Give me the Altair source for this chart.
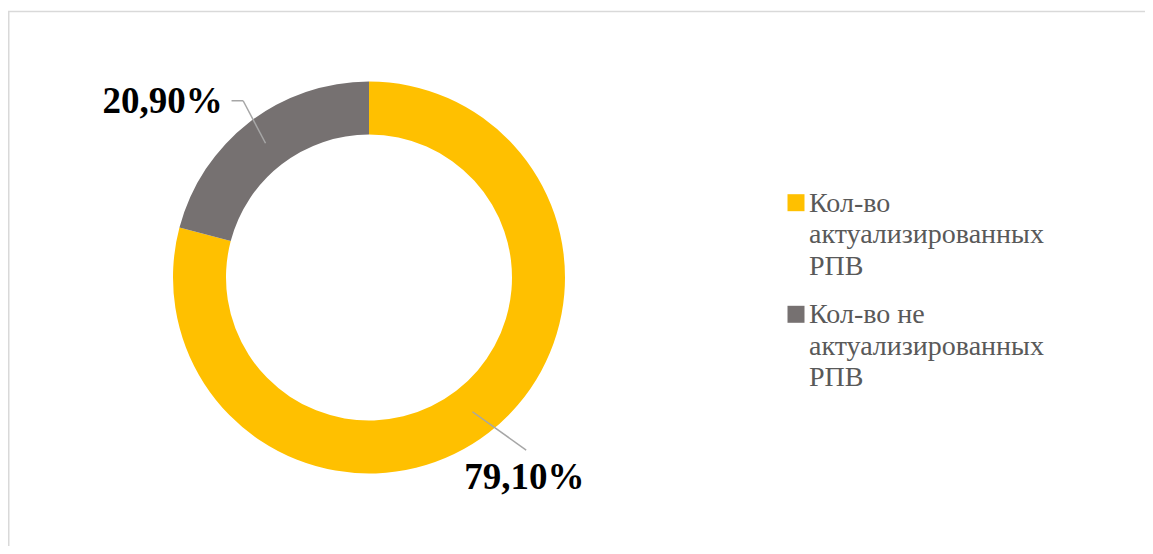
import altair as alt
import pandas as pd

# ---- data ----
categories = ["Кол-во актуализированных РПВ", "Кол-во не актуализированных РПВ"]
shares = [79.1, 20.9]
pct_labels = ["79,10%", "20,90%"]
legend_labels = ["Кол-во\nактуализированных\nРПВ", "Кол-во не\nактуализированных\nРПВ"]
colors = ["#FFC000", "#767171"]

df = pd.DataFrame({
    "idx": list(range(len(categories))),
    "category": categories,
    "share": shares,
    "label": pct_labels,
    "legend": legend_labels,
})

# ---- layout constants ----
W, H = 1137, 538
CX, CY = 361, 269.5
R_OUT, R_IN = 196, 143
R_MID = (R_OUT + R_IN) / 2

base = alt.Chart(df)
color = alt.Color("category:N", scale=alt.Scale(domain=categories, range=colors), legend=None)

donut = base.mark_arc(outerRadius=R_OUT, innerRadius=R_IN, stroke=None).encode(
    theta=alt.Theta("share:Q", stack=True),
    order=alt.Order("idx:Q"),
    color=color,
    x=alt.value(CX),
    y=alt.value(CY),
)

geo = base.transform_joinaggregate(total="sum(share)").transform_window(
    cum="sum(share)", sort=[alt.SortField("idx")], frame=[None, 0]
).transform_calculate(
    mid="(datum.cum - datum.share/2)/datum.total*2*PI",
).transform_calculate(
    x0=f"{CX} + {R_MID}*sin(datum.mid)",
    y0=f"{CY} - {R_MID}*cos(datum.mid)",
).transform_calculate(
    x1="datum.idx == 1 ? datum.x0 - 22.4 : datum.x0 + 53.7",
    y1="datum.idx == 1 ? datum.y0 - 42.5 : datum.y0 + 38.3",
    lx="datum.idx == 1 ? datum.x0 - 103 : datum.x0 + 52",
    ly="datum.idx == 1 ? datum.y0 - 30 : datum.y0 + 77",
).transform_calculate(
    x2="datum.idx == 1 ? datum.x1 - 11.6 : datum.x1",
    y2="datum.y1",
)

def px(f):
    return alt.X(f"{f}:Q", scale=None, axis=None)

def py(f):
    return alt.Y(f"{f}:Q", scale=None, axis=None)

leader1 = geo.mark_rule(color="#A6A6A6", strokeWidth=1.5).encode(
    x=px("x0"), y=py("y0"), x2="x1:Q", y2="y1:Q"
)
leader2 = geo.mark_rule(color="#A6A6A6", strokeWidth=1.5).encode(
    x=px("x1"), y=py("y1"), x2="x2:Q", y2="y2:Q"
)
pct = geo.mark_text(
    font="Liberation Serif", fontSize=37, fontWeight="bold", color="black",
    align="center", baseline="alphabetic",
).encode(x=px("lx"), y=py("ly"), text="label:N")

# ---- legend ----
LEG_SQ_X, LEG_SQ_Y, LEG_TX_X, LEG_TX_Y, LEG_GAP = 788, 194.7, 801, 203.7, 111.6
leg = base.transform_calculate(
    sy=f"{LEG_SQ_Y} + datum.idx*{LEG_GAP}",
    ty=f"{LEG_TX_Y} + datum.idx*{LEG_GAP}",
)
leg_sq = leg.mark_square(size=289, opacity=1, cornerRadius=2).encode(
    x=alt.value(LEG_SQ_X), y=py("sy"), color=color
)
leg_tx = leg.mark_text(
    font="Liberation Serif", fontSize=28, color="#595959", align="left",
    baseline="alphabetic", lineBreak="\n", lineHeight=31.6,
).encode(x=alt.value(LEG_TX_X), y=py("ty"), text="legend:N")

# ---- frame (top & left edges visible) ----
frame_df = alt.Chart(pd.DataFrame({"a": [0]}))
top_edge = frame_df.mark_rule(color="#D9D9D9", strokeWidth=1.5).encode(
    x=alt.value(0), x2=alt.value(W), y=alt.value(3.5)
)
left_edge = frame_df.mark_rule(color="#D9D9D9", strokeWidth=1.5).encode(
    x=alt.value(0.75), y=alt.value(3.5), y2=alt.value(H)
)

chart = alt.layer(
    top_edge, left_edge, donut, leader1, leader2, pct, leg_sq, leg_tx
).properties(
    width=W, height=H, padding=0, autosize="none", background="white"
).configure_view(stroke=None)

chart.save("out.html", embed_options={"renderer": "svg", "actions": False})
